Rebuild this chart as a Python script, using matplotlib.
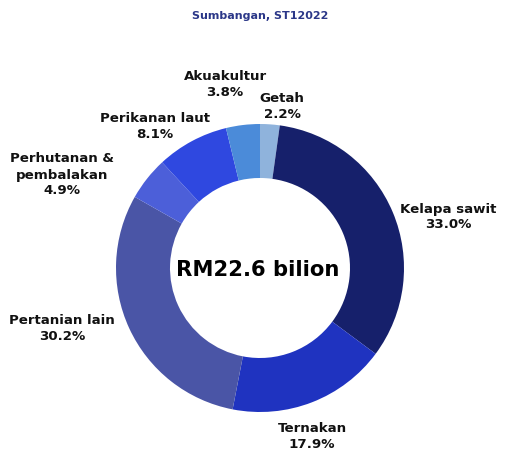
import matplotlib.pyplot as plt

plt.rcParams['font.family'] = ['DejaVu Sans']

labels = ['Getah', 'Kelapa sawit', 'Ternakan', 'Pertanian lain',
          'Perhutanan &\npembalakan', 'Perikanan laut', 'Akuakultur']
shares = [2.2, 33.0, 17.9, 30.2, 4.9, 8.1, 3.8]
colors = ['#8fb3dc', '#16206b', '#1f33c0', '#4a55a6', '#4c5fd9', '#2f48e0', '#4b8bd9']

# label anchor points in pixel space (x, y from top)
label_pos = [(282, 106), (448, 217), (312, 437), (62, 329),
             (62, 175), (155, 127), (225, 84)]

fig = plt.figure(figsize=(5.08, 4.57), dpi=100)
ax = fig.add_axes([0, 0, 1, 1])

ax.pie(shares, colors=colors, startangle=90, counterclock=False,
       radius=144, center=(260, 457 - 268),
       wedgeprops=dict(width=54, linewidth=0))

# pie resets the limits, so set them afterwards
ax.set_xlim(0, 508)
ax.set_ylim(0, 457)
ax.set_aspect('equal')
ax.axis('off')

for lab, v, (x, y) in zip(labels, shares, label_pos):
    ax.text(x, 457 - y, f'{lab}\n{v:.1f}%', ha='center', va='center',
            fontsize=9.6, fontweight='bold', color='#111111', linespacing=1.3)

ax.text(258, 457 - 270, 'RM22.6 bilion', ha='center', va='center',
        fontsize=15.2, fontweight='bold', color='#000000')

ax.text(260, 457 - 16, 'Sumbangan, ST12022', ha='center', va='center',
        fontsize=8, fontweight='bold', color='#2b3788')

fig.savefig('out.png', dpi=100)
